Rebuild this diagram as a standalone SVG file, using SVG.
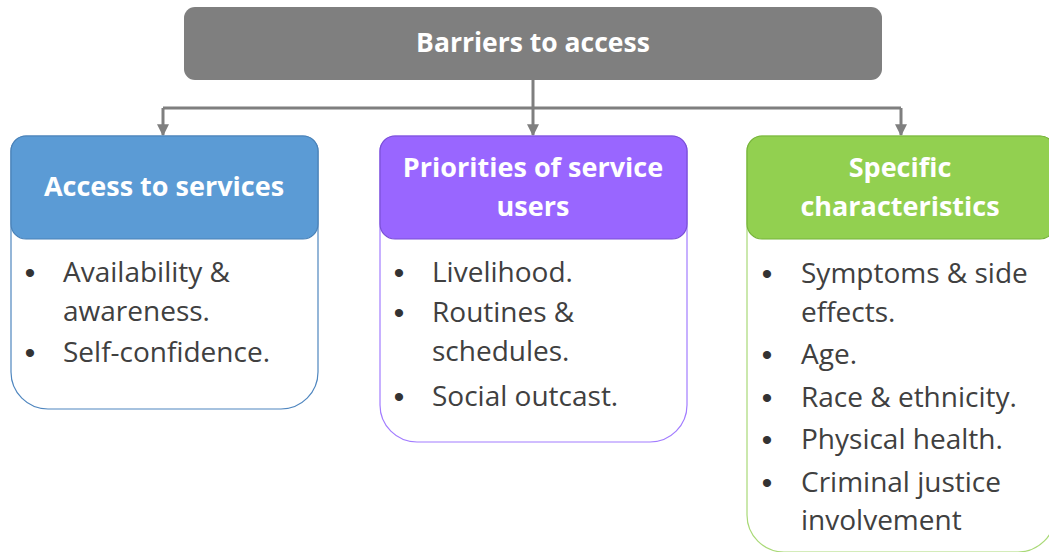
<svg xmlns="http://www.w3.org/2000/svg" width="1049" height="552" viewBox="0 0 1049 552">
<style>
.bg{fill:#ffffff}
.title{font-family:"Open Sans","Liberation Sans",sans-serif;font-weight:bold;font-size:26.5px;fill:#ffffff;text-anchor:middle}
.head{font-family:"Open Sans","Liberation Sans",sans-serif;font-weight:bold;font-size:27px;fill:#ffffff;text-anchor:middle}
.body{font-family:"Open Sans","Liberation Sans",sans-serif;font-size:28px;fill:#404040}
.bul{font-family:"Liberation Sans",sans-serif;font-size:30px;fill:#333333;text-anchor:middle}
.conn{fill:none;stroke:#7f7f7f;stroke-width:3}
</style>
<defs>
<marker id="arr" viewBox="0 0 10 10" refX="9" refY="5" markerWidth="4" markerHeight="4" orient="auto" markerUnits="strokeWidth">
<path d="M0,0 L10,5 L0,10 Z" fill="#7f7f7f"/>
</marker>
</defs>
<rect class="bg" x="0" y="0" width="1049" height="552"/>
<g id="connectors">
<path class="conn" d="M533,80 V108"/>
<path class="conn" d="M163,108 H901"/>
<path class="conn" d="M163,108 V135" marker-end="url(#arr)"/>
<path class="conn" d="M533,108 V135" marker-end="url(#arr)"/>
<path class="conn" d="M901,108 V135" marker-end="url(#arr)"/>
</g>
<g id="root">
<rect x="184" y="7" width="698" height="73" rx="11" fill="#7f7f7f"/>
<text class="title" x="533" y="52">Barriers to access</text>
</g>
<g id="access">
<path d="M26,136 H303 A15,15 0 0 1 318,151 V372 A37,37 0 0 1 281,409 H48 A37,37 0 0 1 11,372 V151 A15,15 0 0 1 26,136 Z" fill="#ffffff" stroke="#4f86bf" stroke-width="1.2"/>
<rect x="11" y="136" width="307" height="103" rx="15" fill="#5b9bd5" stroke="#4a82b8" stroke-width="1.2"/>
<text class="head" x="164" y="196">Access to services</text>
<text class="bul" x="30" y="283">•</text><text class="body" x="63" y="282">Availability &amp;</text>
<text class="body" x="63" y="321">awareness.</text>
<text class="bul" x="30" y="363">•</text><text class="body" x="63" y="362">Self-confidence.</text>
</g>
<g id="priorities">
<path d="M395,136 H672 A15,15 0 0 1 687,151 V405 A37,37 0 0 1 650,442 H417 A37,37 0 0 1 380,405 V151 A15,15 0 0 1 395,136 Z" fill="#ffffff" stroke="#a27cff" stroke-width="1.2"/>
<rect x="380" y="136" width="307" height="103" rx="15" fill="#9966ff" stroke="#7a4fd6" stroke-width="1.2"/>
<text class="head" x="533" y="177">Priorities of service</text>
<text class="head" x="533" y="216">users</text>
<text class="bul" x="399" y="283">•</text><text class="body" x="432" y="282">Livelihood.</text>
<text class="bul" x="399" y="323">•</text><text class="body" x="432" y="322">Routines &amp;</text>
<text class="body" x="432" y="361">schedules.</text>
<text class="bul" x="399" y="407">•</text><text class="body" x="432" y="406">Social outcast.</text>
</g>
<g id="specific">
<path d="M762,136 H1040 A15,15 0 0 1 1055,151 V515 A37,37 0 0 1 1018,552 H784 A37,37 0 0 1 747,515 V151 A15,15 0 0 1 762,136 Z" fill="#ffffff" stroke="#a9d977" stroke-width="1.2"/>
<rect x="747" y="136" width="308" height="103" rx="15" fill="#92d050" stroke="#76b33a" stroke-width="1.2"/>
<text class="head" x="900" y="177">Specific</text>
<text class="head" x="900" y="216">characteristics</text>
<text class="bul" x="767" y="284">•</text><text class="body" x="801" y="283">Symptoms &amp; side</text>
<text class="body" x="801" y="322">effects.</text>
<text class="bul" x="767" y="365">•</text><text class="body" x="801" y="364">Age.</text>
<text class="bul" x="767" y="408">•</text><text class="body" x="801" y="407">Race &amp; ethnicity.</text>
<text class="bul" x="767" y="450">•</text><text class="body" x="801" y="449">Physical health.</text>
<text class="bul" x="767" y="493">•</text><text class="body" x="801" y="492">Criminal justice</text>
<text class="body" x="801" y="530">involvement</text>
</g>
</svg>
